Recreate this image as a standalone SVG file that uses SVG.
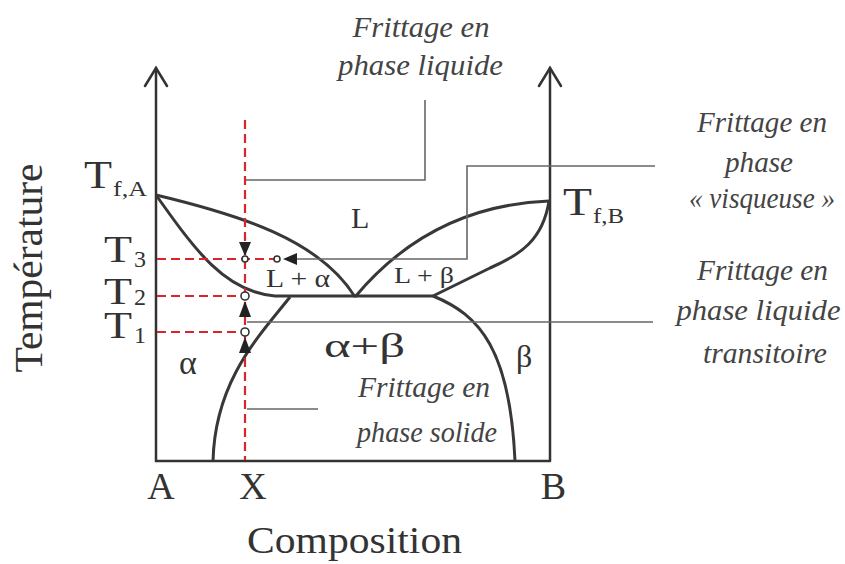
<svg xmlns="http://www.w3.org/2000/svg" width="845" height="564" viewBox="0 0 845 564">
<style>
.ax{fill:none;stroke:#333;stroke-width:2.5;stroke-linecap:round}
.cv{fill:none;stroke:#383838;stroke-width:3;stroke-linejoin:round}
.cn{fill:none;stroke:#666;stroke-width:1.6}
.rd{fill:none;stroke:#d8262c;stroke-width:2.2;stroke-dasharray:9 5}
.ar{fill:#222}
.pt{fill:#fff;stroke:#333;stroke-width:1.6}
.it{font-family:'Liberation Serif','DejaVu Serif',serif;font-style:italic;font-size:30px;fill:#444;text-anchor:middle}
.lb{font-family:'Liberation Serif','DejaVu Serif',serif;fill:#333}
</style>
<rect width="845" height="564" fill="#fff"/>
<g id="axes">
<path class="ax" d="M156,68 V461 H550 M550,68 V461"/>
<path class="ax" d="M145,86 L156,68 L167,86 M539,86 L550,68 L561,86"/>
</g>
<g id="phase-curves">
<path class="cv" d="M156,195 C240,215 320,240 355,297"/>
<path class="cv" d="M156,195 C195,250 225,292 275,296 L433,296"/>
<path class="cv" d="M355,297 C390,255 450,205 549,201"/>
<path class="cv" d="M549,201 C543,240 520,255 490,268 L433,296"/>
<path class="cv" d="M433,296 C480,315 510,350 515,461"/>
<path class="cv" d="M290,297 C260,335 215,380 213,461"/>
</g>
<g id="connectors">
<path class="cn" d="M425,100 V180 H245"/>
<path class="cn" d="M655,166 H467 V259 H297"/>
<path class="cn" d="M247,322 H653"/>
<path class="cn" d="M247,409 H318"/>
</g>
<g id="composition-X">
<path class="rd" d="M245,120 V460"/>
<path class="rd" d="M157,259 H277 M157,296 H245 M157,332 H245"/>
<polygon class="ar" points="239,242 251,242 245,256"/>
<polygon class="ar" points="239,317 251,317 245,301"/>
<polygon class="ar" points="239,353 251,353 245,337"/>
<polygon class="ar" points="297,253 297,265 283,259"/>
<circle class="pt" cx="245" cy="259" r="3"/>
<circle class="pt" cx="277" cy="259" r="3"/>
<circle class="pt" cx="245" cy="296" r="4"/>
<circle class="pt" cx="245" cy="332" r="4"/>
</g>
<g id="axis-labels" class="lb">
<text transform="translate(42,268) rotate(-90)" font-size="40" text-anchor="middle" textLength="209" lengthAdjust="spacingAndGlyphs">Température</text>
<text x="354.5" y="553" font-size="38" text-anchor="middle" textLength="215" lengthAdjust="spacingAndGlyphs">Composition</text>
<text x="161" y="499" font-size="38" text-anchor="middle">A</text>
<text x="253" y="499" font-size="38" text-anchor="middle">X</text>
<text x="553.5" y="499" font-size="38" text-anchor="middle">B</text>
<text x="84" y="188" font-size="39" textLength="28" lengthAdjust="spacingAndGlyphs">T</text>
<text x="113" y="196" font-size="22" textLength="34" lengthAdjust="spacingAndGlyphs">f,A</text>
<text x="563" y="215" font-size="39" textLength="29" lengthAdjust="spacingAndGlyphs">T</text>
<text x="593" y="223" font-size="22" textLength="31" lengthAdjust="spacingAndGlyphs">f,B</text>
<text x="104" y="262" font-size="38" textLength="28" lengthAdjust="spacingAndGlyphs">T</text>
<text x="134" y="267" font-size="24">3</text>
<text x="104" y="304" font-size="38" textLength="28" lengthAdjust="spacingAndGlyphs">T</text>
<text x="134" y="305" font-size="24">2</text>
<text x="104" y="338" font-size="38" textLength="28" lengthAdjust="spacingAndGlyphs">T</text>
<text x="134" y="343" font-size="24">1</text>
</g>
<g id="regions" class="lb">
<text x="351" y="228" font-size="30">L</text>
<text x="266" y="287" font-size="25" textLength="64" lengthAdjust="spacingAndGlyphs">L + α</text>
<text x="394" y="283" font-size="24" textLength="60" lengthAdjust="spacingAndGlyphs">L + β</text>
<text x="179" y="374" font-size="34">α</text>
<text x="324" y="357" font-size="34" textLength="81" lengthAdjust="spacingAndGlyphs">α+β</text>
<text x="516" y="367" font-size="32">β</text>
</g>
<g id="note-liquide">
<text class="it" x="421" y="37" textLength="137" lengthAdjust="spacingAndGlyphs">Frittage en</text>
<text class="it" x="420.5" y="75" textLength="165" lengthAdjust="spacingAndGlyphs">phase liquide</text>
</g>
<g id="note-visqueuse">
<text class="it" x="762" y="132" textLength="130" lengthAdjust="spacingAndGlyphs">Frittage en</text>
<text class="it" x="759" y="172" textLength="68" lengthAdjust="spacingAndGlyphs">phase</text>
<text class="it" x="762" y="208" textLength="146" lengthAdjust="spacingAndGlyphs">« visqueuse »</text>
</g>
<g id="note-transitoire">
<text class="it" x="762.5" y="280" textLength="131" lengthAdjust="spacingAndGlyphs">Frittage en</text>
<text class="it" x="758.5" y="320" textLength="164" lengthAdjust="spacingAndGlyphs">phase liquide</text>
<text class="it" x="765" y="363" textLength="124" lengthAdjust="spacingAndGlyphs">transitoire</text>
</g>
<g id="note-solide">
<text class="it" x="424" y="397" textLength="132" lengthAdjust="spacingAndGlyphs">Frittage en</text>
<text class="it" x="427" y="442" textLength="140" lengthAdjust="spacingAndGlyphs">phase solide</text>
</g>
</svg>
